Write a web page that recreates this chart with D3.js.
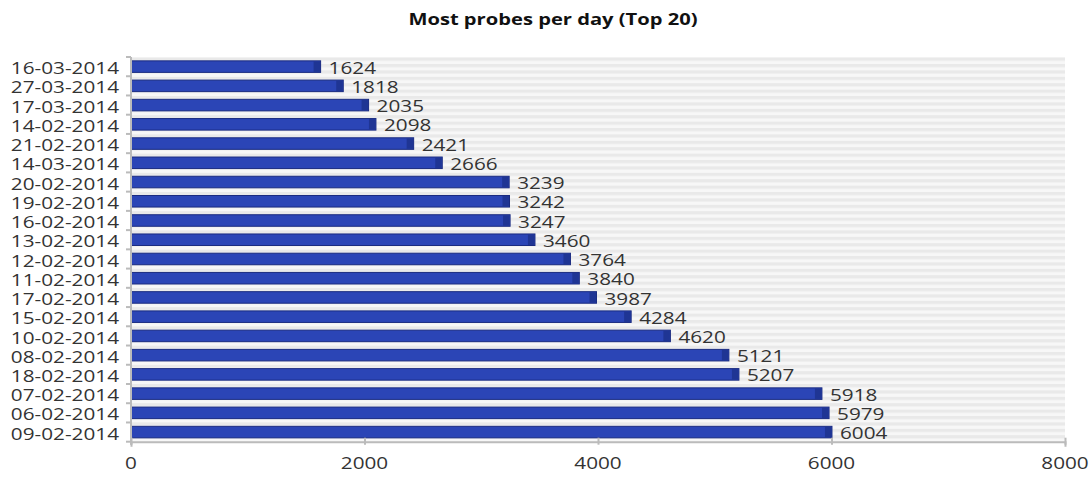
<!DOCTYPE html>
<html><head><meta charset="utf-8">
<script src="https://cdn.jsdelivr.net/npm/d3@7"></script>
<style>body{margin:0;background:#fff;}svg{display:block;font-family:"Open Sans",sans-serif;}</style>
</head><body><svg id="c" width="1091" height="478"></svg>
<script>
const categories = ["16-03-2014","27-03-2014","17-03-2014","14-02-2014","21-02-2014","14-03-2014","20-02-2014","19-02-2014","16-02-2014","13-02-2014","12-02-2014","11-02-2014","17-02-2014","15-02-2014","10-02-2014","08-02-2014","18-02-2014","07-02-2014","06-02-2014","09-02-2014"];
const values = [1624,1818,2035,2098,2421,2666,3239,3242,3247,3460,3764,3840,3987,4284,4620,5121,5207,5918,5979,6004];
const xTicks = [0,2000,4000,6000,8000];
const title = "Most probes per day (Top 20)";

const SX = 1.22; // horizontal stretch of the reference's lettering
const FS = 17;
const svg = d3.select("#c");
const m = {left:131, right:1065, top:57, bottom:441.7};
const x = d3.scaleLinear().domain([0,8000]).range([m.left, m.right]);
const y = d3.scaleBand().domain(categories).range([m.top, m.bottom]).paddingInner(0.4).paddingOuter(0.2);

function stext(parent, tx, ty, str, opts){
  const g = parent.append("g").attr("transform",`translate(${tx},${ty}) scale(${opts.sx||SX},1)`);
  return g.append("text").attr("x",0).attr("y",0)
    .attr("text-anchor",opts.anchor||"start")
    .attr("font-size",opts.size||FS)
    .attr("font-weight",opts.weight||"normal")
    .attr("fill",opts.fill||"#333")
    .attr("dy",opts.dy||"0")
    .text(str);
}

const defs = svg.append("defs");
const pat = defs.append("pattern").attr("id","stripes").attr("patternUnits","userSpaceOnUse")
  .attr("width",10).attr("height",6.4);
pat.append("rect").attr("width",10).attr("height",6.4).attr("fill","#f7f7f7");
pat.append("rect").attr("y",0).attr("width",10).attr("height",3.2).attr("fill","#e9e9e9");

svg.append("rect").attr("x",m.left).attr("y",m.top).attr("width",m.right-m.left).attr("height",m.bottom-m.top)
  .attr("fill","url(#stripes)");

stext(svg, 553, 25, title, {anchor:"middle", weight:"bold", size:16, fill:"#111", sx:1.26});

// bars
const g = svg.append("g");
categories.forEach((c,i)=>{
  const v = values[i];
  const yy = y(c), h = y.bandwidth(), w = x(v)-x(0);
  g.append("rect").attr("x",x(0)).attr("y",yy).attr("width",w).attr("height",h)
    .attr("fill","#2b45b6").attr("stroke","#1a2b80").attr("stroke-width",1);
  g.append("rect").attr("x",x(v)-7).attr("y",yy+0.5).attr("width",6.5).attr("height",h-1)
    .attr("fill","#1f3594");
  stext(g, x(v)+8, yy+h/2+1, v, {dy:"0.36em"});
});

// left axis (line + band ticks), labels drawn stretched
svg.append("line").attr("x1",m.left).attr("x2",m.left).attr("y1",m.top).attr("y2",m.bottom+3)
  .attr("stroke","#bbb").attr("stroke-width",2);
const bounds = d3.range(categories.length+1).map(i=>m.top + i*y.step());
svg.append("g").selectAll("line").data(bounds).join("line")
  .attr("x1",m.left-5).attr("x2",m.left).attr("y1",d=>d).attr("y2",d=>d)
  .attr("stroke","#bbb").attr("stroke-width",2);
const gl = svg.append("g");
categories.forEach(c=>{
  stext(gl, m.left-12, y(c)+y.bandwidth()/2+1.5, c, {anchor:"end", dy:"0.36em"});
});

// bottom axis
const xAxis = d3.axisBottom(x).tickValues(xTicks).tickFormat(()=>"").tickSize(5);
const gx = svg.append("g").attr("transform",`translate(0,${m.bottom})`).call(xAxis);
gx.select(".domain").attr("stroke","#bbb").attr("stroke-width",2);
gx.selectAll(".tick line").attr("stroke","#bbb").attr("stroke-width",2).attr("y1",-4).attr("y2",3);
xTicks.forEach(t=>{
  stext(svg, x(t), m.bottom+27, d3.format("d")(t), {anchor:"middle"});
});
</script></body></html>
